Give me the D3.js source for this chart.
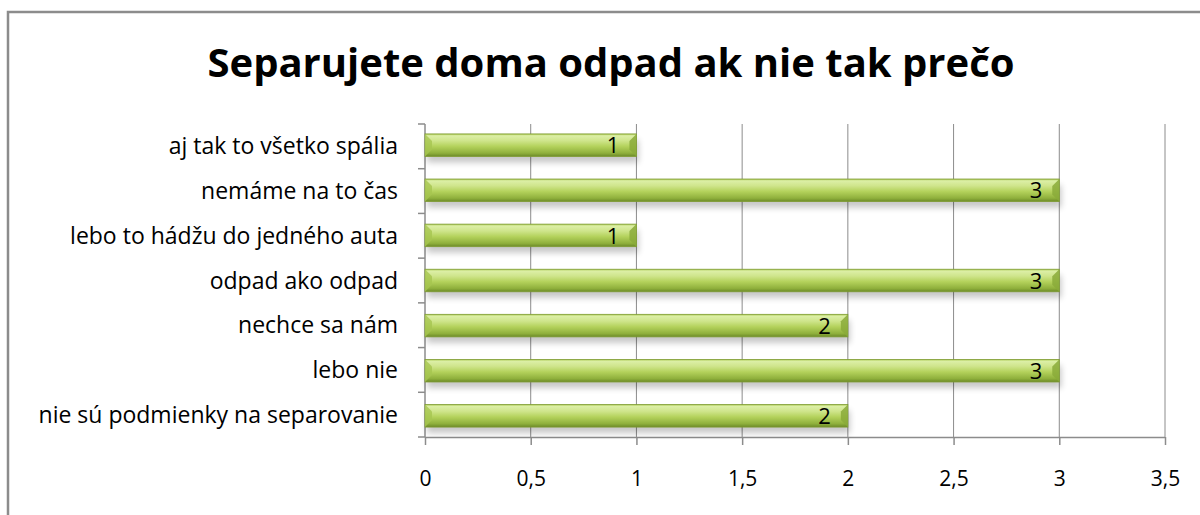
<!DOCTYPE html>
<html><head><meta charset="utf-8">
<script src="https://cdn.jsdelivr.net/npm/d3@7"></script>
<style>body{margin:0;background:#fff}svg{display:block}</style>
</head><body>
<script>
const categories = ["aj tak to všetko spália","nemáme na to čas","lebo to hádžu do jedného auta","odpad ako odpad","nechce sa nám","lebo nie","nie sú podmienky na separovanie"];
const values = [1,3,1,3,2,3,2];
const tickValues = [0,0.5,1,1.5,2,2.5,3,3.5];
const tickLabels = ["0","0,5","1","1,5","2","2,5","3","3,5"];
const title = "Separujete doma odpad ak nie tak prečo";

const W=1200,H=515;
const svg=d3.select("body").append("svg").attr("width",W).attr("height",H);
const defs=svg.append("defs");
const g1=defs.append("linearGradient").attr("id","barg").attr("x1",0).attr("y1",0).attr("x2",0).attr("y2",1);
[[0,"#a9c84e"],[0.08,"#dcefa6"],[0.3,"#cfe58c"],[0.55,"#b4d25c"],[0.85,"#8fb03c"],[1,"#6c8a28"]].forEach(s=>g1.append("stop").attr("offset",s[0]).attr("stop-color",s[1]));
const f=defs.append("filter").attr("id","sh").attr("x","-5%").attr("y","-50%").attr("width","110%").attr("height","200%");
f.append("feGaussianBlur").attr("stdDeviation",3);

svg.append("rect").attr("x",8).attr("y",12).attr("width",1200).attr("height",520).attr("fill","#fff").attr("stroke","#8c8c8c").attr("stroke-width",2.5);

svg.append("text").attr("x",611).attr("y",77).attr("text-anchor","middle")
 .style("font-family","'Open Sans',sans-serif").style("font-weight","bold").style("font-size","40px").attr("fill","#000").text(title);

const x=d3.scaleLinear().domain([0,3.5]).range([425,1165]);
const y=d3.scaleBand().domain(categories).range([124,437]).paddingInner(0.5).paddingOuter(0.22);
const yb=d3.scaleBand().domain(categories).range([124,437]);

// gridlines
svg.append("g").selectAll("line").data(tickValues.slice(1)).join("line")
 .attr("x1",d=>x(d)).attr("x2",d=>x(d)).attr("y1",124).attr("y2",437).attr("stroke","#8c8c8c").attr("stroke-width",1);

// x axis
const xa=svg.append("g").attr("transform","translate(0,437)")
 .call(d3.axisBottom(x).tickValues(tickValues).tickFormat((d,i)=>tickLabels[i]).tickSize(8).tickPadding(26));
xa.select(".domain").attr("stroke","#8c8c8c").attr("stroke-width",1.5).attr("d","M425,0.5H1165");
xa.selectAll(".tick line").attr("stroke","#8c8c8c").attr("stroke-width",1.5);
xa.selectAll("text").style("font-family","'Open Sans',sans-serif").style("font-size","21px").attr("fill","#000");

// y axis
const ya=svg.append("g").attr("transform","translate(425,0)");
ya.append("line").attr("x1",0).attr("x2",0).attr("y1",124).attr("y2",437).attr("stroke","#8c8c8c").attr("stroke-width",1.5);
const bounds=categories.map(c=>yb(c)).concat([437]);
ya.selectAll("line.t").data(bounds).join("line").attr("class","t").attr("x1",-7).attr("x2",0).attr("y1",d=>d).attr("y2",d=>d).attr("stroke","#8c8c8c").attr("stroke-width",1.5);
ya.selectAll("text").data(categories).join("text").attr("x",-27).attr("y",c=>yb(c)+yb.bandwidth()/2).attr("dy","0.35em")
 .attr("text-anchor","end").style("font-family","'Open Sans',sans-serif").style("font-size","23px").attr("fill","#000").text(c=>c);

// bars
const bars=svg.append("g").selectAll("g").data(categories).join("g");
bars.append("rect").attr("x",x(0)+2).attr("y",c=>y(c)+6).attr("width",(c,i)=>x(values[i])-x(0)).attr("height",y.bandwidth())
 .attr("fill","#000").attr("opacity",0.22).attr("filter","url(#sh)");
bars.append("rect").attr("x",x(0)).attr("y",c=>y(c)).attr("width",(c,i)=>x(values[i])-x(0)).attr("height",y.bandwidth())
 .attr("fill","url(#barg)").attr("stroke","#7f9c34").attr("stroke-width",0.8);
const bv=7;
bars.append("path").attr("d",(c,i)=>{const x0=x(0),t=y(c),b=t+y.bandwidth();return `M${x0},${t}L${x0+bv},${t+bv}L${x0+bv},${b-bv}L${x0},${b}Z`;}).attr("fill","#a6c550").attr("opacity",0.8);
bars.append("path").attr("d",(c,i)=>{const x1=x(values[i]),t=y(c),b=t+y.bandwidth();return `M${x1},${t}L${x1-bv},${t+bv}L${x1-bv},${b-bv}L${x1},${b}Z`;}).attr("fill","#8aaa3a").attr("opacity",0.85);
bars.append("text").attr("x",(c,i)=>x(values[i])-17).attr("y",c=>y(c)+y.bandwidth()/2).attr("dy","0.37em").attr("text-anchor","end")
 .style("font-family","'Open Sans',sans-serif").style("font-size","22px").attr("fill","#000").text((c,i)=>values[i]);
</script>
</body></html>
